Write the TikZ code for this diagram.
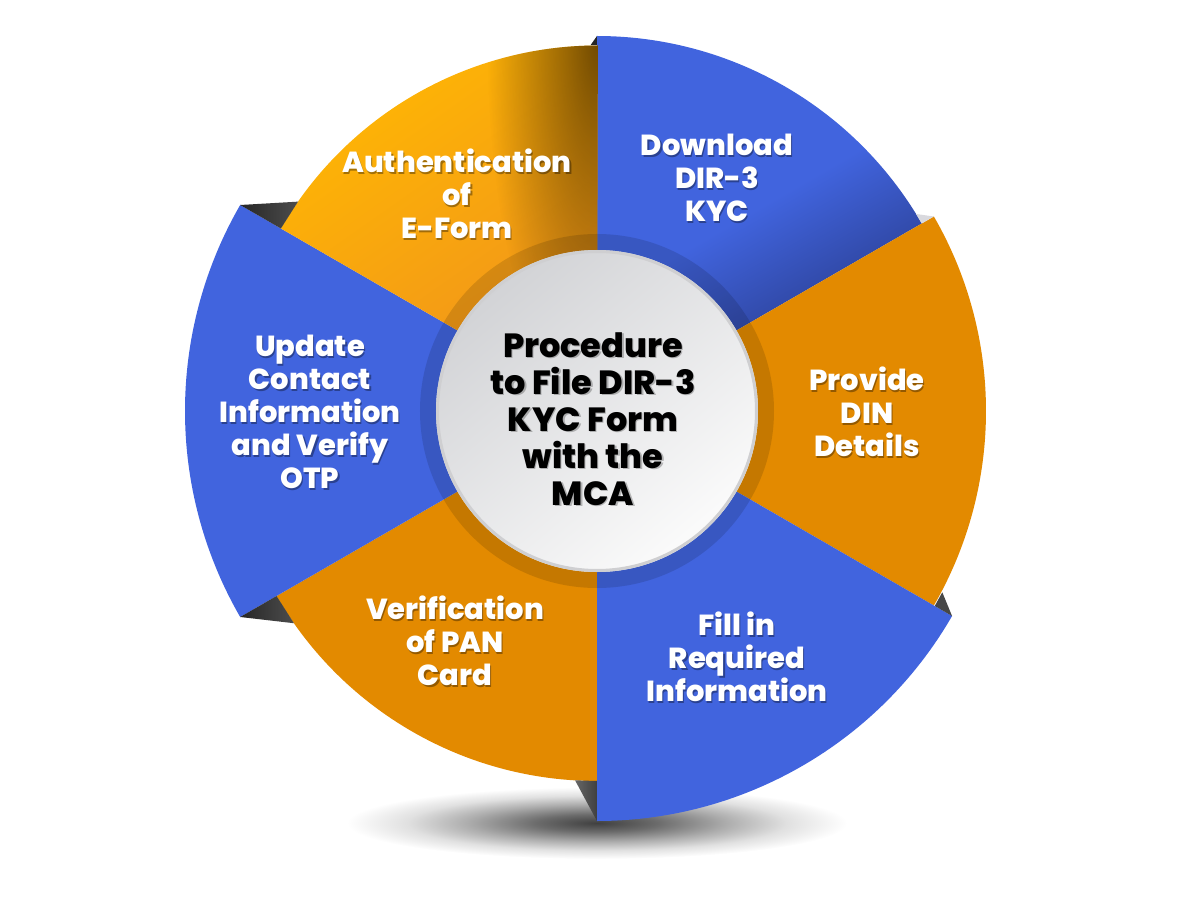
\documentclass[tikz,border=0pt]{standalone}
\usepackage{fontspec}
\setmainfont{Poppins}[BoldFont={Poppins ExtraBold}]
\usetikzlibrary{fadings}
\definecolor{segblue}{HTML}{4164DE}
\definecolor{segorange}{HTML}{E38A00}
\definecolor{navy}{HTML}{1C2660}
\definecolor{yelA}{HTML}{FFB703}
\definecolor{yelB}{HTML}{F0921C}
\definecolor{brownd}{HTML}{5A3A00}
\definecolor{rimgray}{HTML}{CFCFD1}
\definecolor{discA}{HTML}{D2D3D6}
\definecolor{discB}{HTML}{FBFBFB}
\pgfdeclareradialshading{floorsh}{\pgfpoint{0bp}{0bp}}{color(0bp)=(black!75); color(6bp)=(black!58); color(13bp)=(black!32); color(19bp)=(black!12); color(25bp)=(white); color(50bp)=(white)}
\pgfdeclareradialshading{glowsh}{\pgfpoint{0bp}{0bp}}{color(0bp)=(white); color(7bp)=(black!30); color(25bp)=(black); color(50bp)=(black)}
\pgfdeclarefading{glowfade}{\pgfuseshading{glowsh}}
\pgfdeclareverticalshading{bluestrip}{100bp}{color(0bp)=(navy); color(25bp)=(navy); color(37bp)=(navy!45!segblue); color(52bp)=(segblue); color(100bp)=(segblue)}
\tikzset{
  seglabel/.style={text=white, font=\bfseries\fontsize{29}{33}\selectfont, align=center, inner sep=0pt},
  centerlabel/.style={text=black, font=\bfseries\fontsize{33.5}{37}\selectfont, align=center, inner sep=0pt},
  fold/.style={fill=#1},
}
\newcommand{\seglab}[3]{%
  \node[seglabel, text=black, text opacity=0.35] at ([shift={(1.2,-1.6)}]#2) {#3};
  \node[seglabel] (#1) at (#2) {#3};}
\begin{document}
\begin{tikzpicture}[x=1pt,y=1pt]
\useasboundingbox (-597,-489) rectangle (603,411);
% floor shadow
\shade[shading=floorsh] (0,-412) ellipse [x radius=250, y radius=36];
% segments
\shade[shading=bluestrip, shading angle=30] (0,0) -- (90:375) arc[start angle=90, end angle=30, radius=375] -- cycle;
\fill[segorange] (0,0) -- (30:389) arc[start angle=30, end angle=-30, radius=389] -- cycle;
\fill[segblue] (0,0) -- (-30:410) arc[start angle=-30, end angle=-90, radius=410] -- cycle;
\fill[segorange] (0,0) -- (-90:370) arc[start angle=-90, end angle=-150, radius=370] -- cycle;
\fill[segblue] (0,0) -- (210:412) arc[start angle=210, end angle=150, radius=412] -- cycle;
\shade[top color=yelA, bottom color=yelB, shading angle=35] (0,0) -- (150:365) arc[start angle=150, end angle=90, radius=366] -- cycle;
\begin{scope}
  \clip (0,0) -- (150:365) arc[start angle=150, end angle=90, radius=366] -- cycle;
  \fill[brownd, path fading=glowfade, fill opacity=0.85] (0,370) ellipse [x radius=110, y radius=360];
\end{scope}
% folds
\fill[fold=black!85] (90:375) -- (90:366) -- (91:366) -- cycle;
\fill[fold=black!45!gray!90!blue!20] (30:389) -- (30:375) -- (31.7:375) -- cycle;
\fill[fold=black!72] (-30:410) -- (-30:390) -- (-27.7:390) -- cycle;
\shade[left color=black!60, right color=black!75] (-90:410) -- (-90:370) -- (-93.4:370) -- cycle;
\shade[left color=black!85, right color=black!70] (150:412) -- (150:365) -- (145:365) -- cycle;
\shade[left color=black!85, right color=black!70] (210:412) -- (210:370) -- (215:370) -- cycle;
% ring and disc
\fill[black, opacity=0.13] (0,0) circle (177);
\shade[top color=discA, bottom color=discB, shading angle=40] (0,0) circle (161);
\draw[rimgray, line width=3] (0,0) circle (159.5);
% labels
\seglab{auth}{-140,217}{Authentication\\of\\E-Form}
\seglab{down}{120,233}{Download\\DIR-3\\KYC}
\seglab{prov}{270,-1}{Provide\\DIN\\Details}
\seglab{fill}{140,-246}{Fill in\\Required\\Information}
\seglab{verif}{-142,-230}{Verification\\of PAN\\Card}
\seglab{upd}{-287,-1}{Update\\Contact\\Information\\and Verify\\OTP}
\node[centerlabel, text=black, text opacity=0.25] at (-2.5,-9.5) {Procedure\\to File DIR-3\\KYC Form\\with the\\MCA};
\node[centerlabel] (title) at (-4,-8) {Procedure\\to File DIR-3\\KYC Form\\with the\\MCA};
\end{tikzpicture}
\end{document}
